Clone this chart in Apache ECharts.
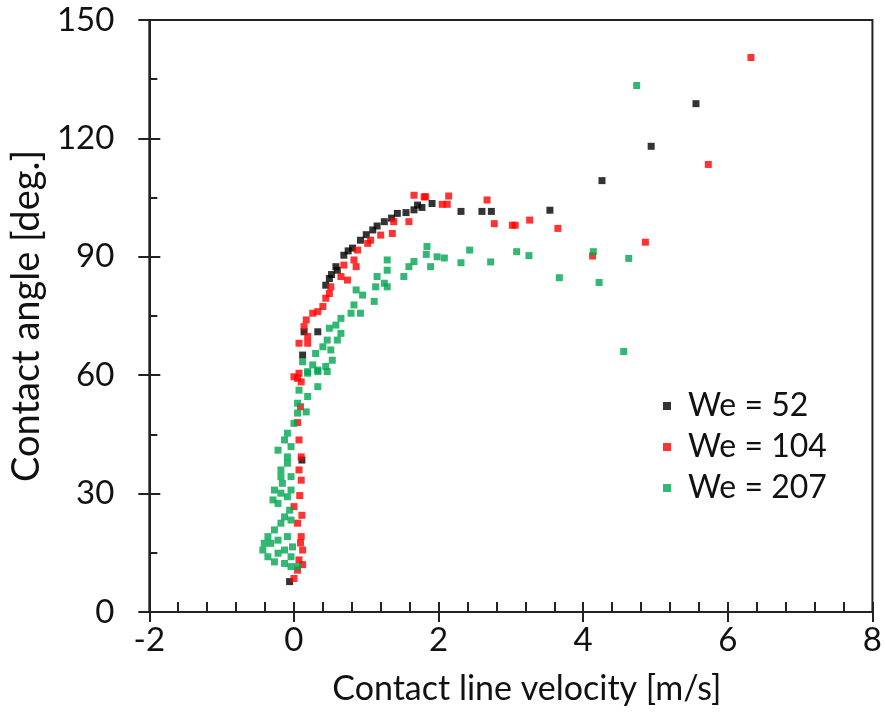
<!DOCTYPE html>
<html>
<head>
<meta charset="utf-8">
<script src="https://cdn.jsdelivr.net/npm/echarts@6/dist/echarts.min.js"></script>
<style>html,body{margin:0;padding:0;background:#fff;}#c{width:885px;height:716px;}</style>
</head>
<body>
<div id="c"></div>
<script>
// Series names
const seriesNames = ['We = 52', 'We = 104', 'We = 207'];
// [contact line velocity (m/s), contact angle (deg.)]
const we52 = [
  [-0.06,7.7],[0.11,38.5],[0.12,65.1],[0.14,71.0],[0.33,71.0],[0.44,82.8],[0.49,84.5],[0.52,85.5],
  [0.58,87.5],[0.60,86.6],[0.69,90.4],[0.75,91.5],[0.81,92.2],[0.92,94.2],[1.00,95.6],[1.09,96.8],
  [1.15,97.8],[1.25,98.9],[1.35,99.8],[1.43,101.0],[1.55,101.2],[1.66,101.9],[1.71,103.1],[1.77,102.5],
  [1.91,103.5],[2.31,101.5],[2.60,101.5],[2.73,101.5],[3.54,101.8],[4.26,109.3],[4.94,118.0],[5.56,128.8]
];
const we104 = [
  [0.00,8.5],[0.05,10.6],[0.12,12.0],[0.07,13.2],[0.12,15.7],[0.09,17.5],[0.10,19.1],[0.05,22.5],
  [0.11,24.5],[0.00,26.7],[0.08,29.5],[0.10,33.4],[0.07,36.0],[0.10,39.3],[0.07,43.6],[0.05,48.0],
  [0.09,52.0],[0.10,58.3],[0.05,59.2],[0.00,59.6],[0.07,60.5],[0.07,68.1],[0.19,68.1],[0.19,69.8],
  [0.14,72.3],[0.17,74.0],[0.26,75.7],[0.33,76.1],[0.40,77.4],[0.44,79.5],[0.49,80.7],[0.51,82.4],
  [0.65,85.0],[0.74,84.1],[0.69,87.9],[0.86,87.5],[0.83,89.2],[0.88,91.7],[1.02,93.4],[1.06,94.2],
  [1.20,95.5],[1.36,95.9],[1.38,98.9],[1.59,98.9],[1.66,105.6],[1.80,105.2],[1.82,105.2],[2.05,103.3],
  [2.12,103.3],[2.14,105.4],[2.67,104.4],[2.77,98.4],[3.02,98.0],[3.06,98.0],[3.26,99.3],[3.65,97.2],
  [4.13,90.2],[4.86,93.7],[5.73,113.4],[6.32,140.5]
];
const we207 = [
  [-0.43,15.7],[-0.41,17.4],[-0.36,19.1],[-0.36,14.0],[-0.32,17.4],[-0.27,20.8],[-0.27,12.7],[-0.22,18.2],
  [-0.22,14.9],[-0.18,22.5],[-0.13,12.3],[-0.13,15.7],[-0.09,19.1],[-0.04,11.5],[-0.04,14.0],[-0.02,16.5],
  [0.05,11.5],[-0.13,24.1],[-0.06,25.8],[-0.04,23.3],[-0.29,28.4],[-0.27,30.9],[-0.22,27.5],[-0.18,30.1],
  [-0.09,29.2],[-0.04,30.9],[-0.16,32.6],[-0.18,34.3],[-0.04,34.3],[-0.18,36.0],[-0.09,37.7],[-0.09,39.3],
  [-0.22,41.0],[-0.04,41.9],[-0.13,43.6],[-0.09,45.3],[0.00,47.8],[0.05,50.4],[0.17,50.7],[0.05,52.9],
  [0.19,54.6],[0.07,56.2],[0.33,57.1],[0.19,60.9],[0.33,60.9],[0.46,60.9],[0.19,60.5],[0.33,61.3],
  [0.26,62.6],[0.44,62.2],[0.12,63.4],[0.53,63.8],[0.30,65.5],[0.51,66.4],[0.40,67.2],[0.46,68.9],
  [0.60,68.9],[0.65,70.6],[0.49,71.9],[0.58,72.7],[0.65,74.4],[0.79,75.7],[0.92,75.7],[0.83,77.8],
  [1.11,78.7],[0.95,80.3],[0.86,81.6],[1.13,82.4],[1.29,82.4],[1.25,83.3],[1.15,85.0],[1.52,85.0],
  [1.29,86.6],[1.59,87.5],[1.66,88.8],[1.29,89.2],[1.89,87.5],[1.98,90.0],[1.83,90.6],[1.84,92.6],
  [2.08,89.7],[2.31,88.5],[2.43,91.7],[2.72,88.7],[3.08,91.3],[3.25,90.3],[3.67,84.7],[4.14,91.3],
  [4.22,83.5],[4.56,66.0],[4.63,89.6],[4.74,133.4]
];
const seriesColors = ['#000000', '#ff0000', '#00a651'];
const xTicks = { min: -2, max: 8, interval: 2 };
const yTicks = { min: 0, max: 150, interval: 30 };

const FONT = 'Lato';
const axisColor = '#222';
const chart = echarts.init(document.getElementById('c'));
const mkScatter = (name, data, color) => ({
  name, type: 'scatter', data, symbol: 'rect', symbolSize: 7,
  xAxisIndex: 0, yAxisIndex: 0,
  itemStyle: { color }
});
chart.setOption({
  animation: false,
  backgroundColor: '#fff',
  grid: { left: 148, right: 12, top: 20, bottom: 104, show: true, borderColor: axisColor, borderWidth: 2 },
  legend: {
    orient: 'vertical', left: 658, top: 385, itemGap: 9,
    icon: 'rect', itemWidth: 8, itemHeight: 8,
    data: seriesNames,
    textStyle: { fontFamily: FONT, fontSize: 32, color: '#111', lineHeight: 32, padding: [0, 0, 0, 12] }
  },
  xAxis: [{
    type: 'value', min: xTicks.min, max: xTicks.max, interval: xTicks.interval,
    name: 'Contact line velocity [m/s]', nameLocation: 'middle', nameGap: 60,
    nameTextStyle: { fontFamily: FONT, fontSize: 34, color: '#111', padding: [0, 0, 0, 32] },
    axisLine: { onZero: false, lineStyle: { color: axisColor, width: 2 } },
    axisTick: { inside: true, length: 10, lineStyle: { color: axisColor, width: 2 } },
    minorTick: { show: true, splitNumber: 5, length: 10, lineStyle: { color: axisColor, width: 2 } },
    axisLabel: { fontFamily: FONT, fontSize: 33, color: '#111', margin: 12 },
    splitLine: { show: false }
  }, {
    type: 'value', min: xTicks.min, max: xTicks.max, interval: xTicks.interval, position: 'bottom',
    axisLine: { show: true, onZero: false, lineStyle: { color: axisColor, width: 2 } },
    axisLabel: { show: false }, splitLine: { show: false },
    axisTick: { show: true, inside: false, length: 10, lineStyle: { color: axisColor, width: 2 } }
  }],
  yAxis: [{
    type: 'value', min: yTicks.min, max: yTicks.max, interval: yTicks.interval,
    name: 'Contact angle [deg.]', nameLocation: 'middle', nameGap: 94,
    nameTextStyle: { fontFamily: FONT, fontSize: 38, color: '#111' },
    axisLine: { onZero: false, lineStyle: { color: axisColor, width: 2 } },
    axisTick: { inside: true, length: 11, lineStyle: { color: axisColor, width: 2 } },
    minorTick: { show: true, splitNumber: 2, length: 8, lineStyle: { color: axisColor, width: 2 } },
    axisLabel: { fontFamily: FONT, fontSize: 33, color: '#111', margin: 35 },
    splitLine: { show: false }
  }, {
    type: 'value', min: yTicks.min, max: yTicks.max, interval: yTicks.interval, position: 'left',
    axisLine: { show: true, onZero: false, lineStyle: { color: axisColor, width: 2 } },
    axisLabel: { show: false }, splitLine: { show: false },
    axisTick: { show: true, inside: false, length: 11, lineStyle: { color: axisColor, width: 2 } }
  }],
  series: [
    mkScatter(seriesNames[0], we52, seriesColors[0]),
    mkScatter(seriesNames[1], we104, seriesColors[1]),
    mkScatter(seriesNames[2], we207, seriesColors[2])
  ]
});
</script>
</body>
</html>
